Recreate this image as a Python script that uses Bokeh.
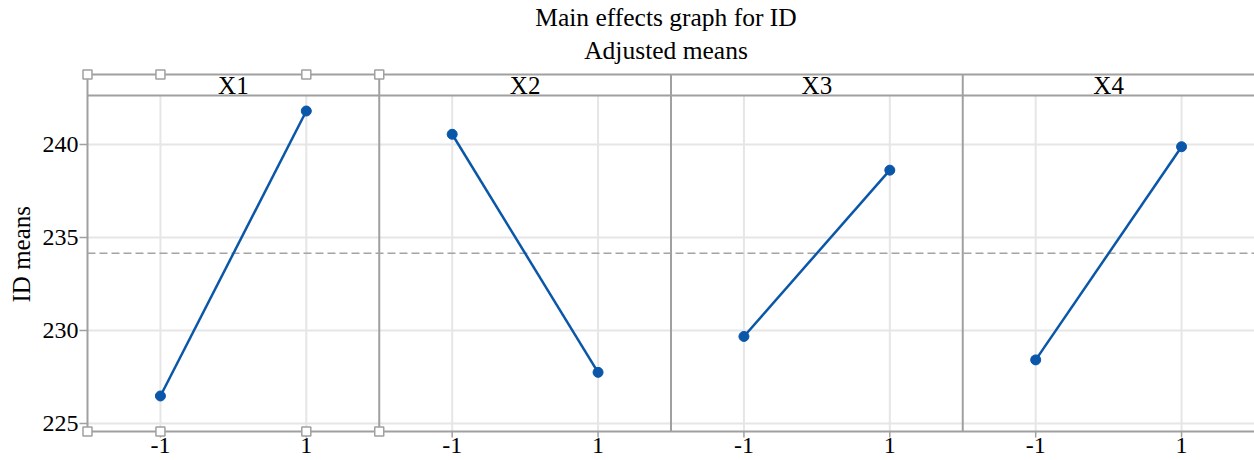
from bokeh.plotting import figure
from bokeh.models import Range1d, FixedTicker, Title
from bokeh.embed import file_html
from bokeh.resources import INLINE
from bokeh.core.properties import value

# ---------------- data ----------------
factors = ["X1", "X2", "X3", "X4"]
levels = [-1, 1]
level_labels = ["-1", "1"]
means_low = [226.48, 240.55, 229.68, 228.42]
means_high = [241.80, 227.75, 238.62, 239.88]
grand_mean = 234.15
y_ticks = [225, 230, 235, 240]
title_lines = ["Main effects graph for ID", "Adjusted means"]
y_label = "ID means"

# ---------------- layout ----------------
PANEL = 4.0
XU = 73.0               # px per x unit
YU = 18.6               # px per y unit
X_START = -6 / XU
X_END = X_START + 1174 / XU
Y_END = 240 + 144 / YU
Y_START = 225 - 37 / YU
Y_BOT = 225 - 8 / YU            # bottom frame line
Y_STRIP_BOT = 240 + 49 / YU     # bottom of panel header strip
Y_STRIP_TOP = 240 + 70 / YU     # top of panel header strip
FONT = "Liberation Serif"
GRAY = "#a0a0a0"
GRID = "#e6e6e6"
BLUE = "#0a56a8"

n = len(factors)
centers = [PANEL * i + PANEL / 2 for i in range(n)]
tick_x = [c + l for c in centers for l in levels]
tick_text = level_labels * n
x_full = PANEL * n

p = figure(width=1254, height=460,
           x_range=Range1d(X_START, X_END), y_range=Range1d(Y_START, Y_END),
           output_backend="svg", toolbar_location=None, x_axis_location=None,
           min_border_left=80, min_border_right=0, min_border_top=0, min_border_bottom=0)
p.outline_line_color = None
p.grid.visible = False
p.background_fill_color = "white"
p.border_fill_color = "white"

# y axis
p.yaxis.ticker = FixedTicker(ticks=y_ticks)
p.yaxis.axis_line_color = None
p.yaxis.major_tick_in = 6
p.yaxis.major_tick_out = 2
p.yaxis.major_tick_line_color = GRAY
p.yaxis.major_tick_line_width = 1.5
p.yaxis.minor_tick_line_color = None
p.yaxis.major_label_text_font = FONT
p.yaxis.major_label_text_font_size = "24px"
p.yaxis.major_label_text_color = "black"
p.yaxis.major_label_standoff = 1

# y axis title, placed where the reference has it
p.add_layout(Title(text=y_label, align="left", offset=158, standoff=10,
                   text_font=FONT, text_font_size="25px", text_font_style="normal",
                   text_color="black"), "left")

# grid lines
p.segment(x0=[0] * len(y_ticks), x1=[x_full] * len(y_ticks), y0=y_ticks, y1=y_ticks,
          line_color=GRID, line_width=2)
p.segment(x0=tick_x, x1=tick_x, y0=[Y_BOT] * len(tick_x), y1=[Y_STRIP_BOT] * len(tick_x),
          line_color=GRID, line_width=2)

# grand mean reference line
p.line(x=[0, x_full], y=[grand_mean, grand_mean], line_color="#a4a4a4",
       line_width=1.5, line_dash="8 4")

# frame lines
vx = [PANEL * i for i in range(n)]
p.segment(x0=vx, x1=vx, y0=[Y_BOT] * len(vx), y1=[Y_STRIP_TOP] * len(vx),
          line_color=GRAY, line_width=2)
hy = [Y_BOT, Y_STRIP_BOT, Y_STRIP_TOP]
p.segment(x0=[0] * 3, x1=[x_full] * 3, y0=hy, y1=hy, line_color=GRAY, line_width=2)

# x tick marks
p.segment(x0=tick_x, x1=tick_x, y0=[Y_BOT] * len(tick_x),
          y1=[Y_BOT - 6 / YU] * len(tick_x), line_color=GRAY, line_width=1.5)

# data
for i in range(n):
    xs = [centers[i] + l for l in levels]
    ys = [means_low[i], means_high[i]]
    p.line(x=xs, y=ys, line_color=BLUE, line_width=2.5)
    p.scatter(x=xs, y=ys, size=10, fill_color=BLUE, line_color=BLUE)

# selection handles on first panel
hx = [0, centers[0] - 1, centers[0] + 1, PANEL]
p.scatter(x=hx * 2, y=[Y_BOT] * 4 + [Y_STRIP_TOP] * 4, marker="square", size=9,
          fill_color="white", line_color=GRAY, line_width=1.5)

# strip labels
p.text(x=centers, y=[240 + 59 / YU] * n, text=factors,
       text_font=value(FONT), text_font_size="25px", text_color="black",
       text_align="center", text_baseline="middle")

# x tick labels
p.text(x=tick_x, y=[225 - 22 / YU] * len(tick_x), text=tick_text,
       text_font=value(FONT), text_font_size="24px", text_color="black",
       text_align="center", text_baseline="middle")

# titles
xc = (585 - 86) / XU + 80 / XU
p.text(x=[xc, xc], y=[240 + 127 / YU, 240 + 94 / YU], text=title_lines,
       text_font=value(FONT), text_font_size="25.5px", text_color="black",
       text_align="center", text_baseline="middle")

open("out.html", "w").write(file_html(p, INLINE))
